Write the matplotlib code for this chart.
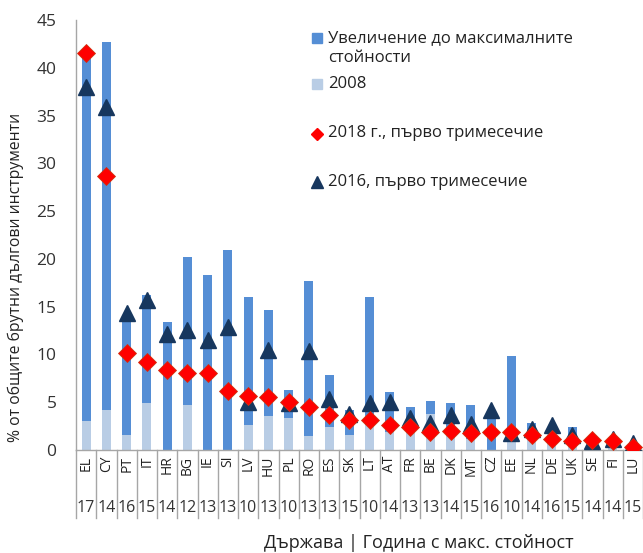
import matplotlib
matplotlib.use("Agg")
import matplotlib.pyplot as plt
from matplotlib.lines import Line2D
from matplotlib.patches import Rectangle
import matplotlib.transforms as mtransforms

plt.rcParams['font.family'] = ['Open Sans', 'DejaVu Sans']

countries = ["EL", "CY", "PT", "IT", "HR", "BG", "IE", "SI", "LV", "HU", "PL", "RO", "ES", "SK",
             "LT", "AT", "FR", "BE", "DK", "MT", "CZ", "EE", "NL", "DE", "UK", "SE", "FI", "LU"]
max_years = ["17", "14", "16", "15", "14", "12", "13", "13", "10", "13", "10", "13", "13", "15",
             "10", "14", "13", "13", "14", "15", "16", "10", "14", "16", "15", "14", "14", "15"]
# 2008 level
v2008 = [3.0, 4.2, 1.6, 4.9, 0.0, 4.7, 0.0, 0.0, 2.6, 3.6, 3.3, 1.5, 2.4, 1.6,
         2.6, 1.9, 3.0, 3.8, 2.0, 1.1, 0.0, 1.0, 1.6, 2.0, 1.0, 0.2, 0.8, 0.3]
# maximum value (2008 + increase)
vmax = [41.7, 42.7, 13.8, 16.2, 13.4, 20.2, 18.3, 20.9, 16.0, 14.6, 6.3, 17.7, 7.8, 4.2,
        16.0, 6.1, 4.5, 5.1, 4.95, 4.7, 4.0, 9.8, 2.8, 2.0, 2.4, 1.0, 0.8, 0.4]
increase = [round(m - b, 2) for m, b in zip(vmax, v2008)]
q1_2018 = [41.5, 28.7, 10.2, 9.2, 8.4, 8.1, 8.1, 6.2, 5.7, 5.5, 5.05, 4.5, 3.7, 3.1,
           3.1, 2.6, 2.4, 1.9, 2.0, 1.8, 1.9, 1.9, 1.6, 1.2, 0.9, 1.0, 0.9, 0.35]
q1_2016 = [38.0, 35.9, 14.3, 15.7, 12.1, 12.6, 11.5, 12.9, 5.05, 10.5, 4.9, 10.4, 5.3, 3.8,
           4.9, 5.05, 3.3, 2.8, 3.7, 2.7, 4.2, 1.8, 2.2, 2.6, 1.6, 0.9, 1.2, 0.7]

legend_labels = ["Увеличение до максималните\nстойности", "2008",
                 "2018 г., първо тримесечие", "2016, първо тримесечие"]
ylabel = "% от общите брутни дългови инструменти"
xlabel = "Държава | Година с макс. стойност"

c_dark = "#558ED5"
c_light = "#B9CDE5"
c_red = "#FF0000"
c_navy = "#17375E"
c_grid = "#A6A6A6"

W, H = 643, 553
fig = plt.figure(figsize=(W / 100, H / 100), dpi=100)
ax = fig.add_axes([76 / W, 1 - 450 / H, (643 - 76) / W, (450 - 20) / H])

x = list(range(len(countries)))
bw = 0.45
ax.bar(x, v2008, width=bw, color=c_light, zorder=2)
ax.bar(x, increase, bottom=v2008, width=bw, color=c_dark, zorder=2)
ax.plot(x, q1_2018, linestyle="none", marker="D", markersize=9.5, color=c_red,
        markeredgecolor="#D03010", markeredgewidth=0.6, zorder=4)
ax.plot(x, q1_2016, linestyle="none", marker="^", markersize=11, color=c_navy,
        markeredgecolor=c_navy, zorder=3)

ax.set_xlim(-0.5, len(countries) - 0.5)
ax.set_ylim(0, 45)
ax.set_yticks(range(0, 46, 5))
ax.tick_params(axis="y", length=0, pad=14, labelsize=12.5, labelcolor="#333333")
ax.set_xticks(x)
ax.set_xticklabels(countries, rotation=90, fontsize=10, color="#222222")
ax.tick_params(axis="x", length=0, pad=4)
for s in ["top", "right"]:
    ax.spines[s].set_visible(False)
for s in ["left", "bottom"]:
    ax.spines[s].set_color(c_grid)
    ax.spines[s].set_linewidth(1.0)

trans = mtransforms.blended_transform_factory(ax.transData, ax.transAxes)
sep_bottom = -(518 - 450) / 430
for i in range(len(countries) + 1):
    ax.add_line(Line2D([i - 0.5, i - 0.5], [0, sep_bottom], transform=trans,
                       color=c_grid, linewidth=1.0, clip_on=False))
year_y = -(508 - 450) / 430
for i, yr in enumerate(max_years):
    ax.text(i, year_y, yr, transform=trans, ha="center", va="center",
            fontsize=11.5, color="#333333", clip_on=False)

fig.text(419 / W, 1 - 543 / H, xlabel, ha="center", va="center", fontsize=13, color="#222222")
fig.text(16 / W, 1 - 277 / H, ylabel, ha="center", va="center", rotation=90,
         fontsize=11.3, color="#222222")

# legend (manual)
lx_m, lx_t = 317, 328
fs_leg = 12
fig.add_artist(Rectangle(((lx_m - 5) / W, 1 - 43 / H), 10 / W, 10 / H,
                         transform=fig.transFigure, color=c_dark))
fig.add_artist(Rectangle(((lx_m - 5) / W, 1 - 89 / H), 10 / W, 10 / H,
                         transform=fig.transFigure, color=c_light))
fig.add_artist(Line2D([lx_m / W], [1 - 134 / H], marker="D", markersize=6, color=c_red,
                      transform=fig.transFigure, linestyle="none"))
fig.add_artist(Line2D([lx_m / W], [1 - 182 / H], marker="^", markersize=8, color=c_navy,
                      transform=fig.transFigure, linestyle="none"))
fig.text(lx_t / W, 1 - 38 / H, legend_labels[0].split("\n")[0], ha="left", va="center",
         fontsize=fs_leg, color="#222222")
fig.text(lx_t / W, 1 - 58 / H, legend_labels[0].split("\n")[1], ha="left", va="center",
         fontsize=fs_leg, color="#222222")
fig.text(lx_t / W, 1 - 84 / H, legend_labels[1], ha="left", va="center", fontsize=fs_leg, color="#222222")
fig.text(lx_t / W, 1 - 133 / H, legend_labels[2], ha="left", va="center", fontsize=fs_leg, color="#222222")
fig.text(lx_t / W, 1 - 182 / H, legend_labels[3], ha="left", va="center", fontsize=fs_leg, color="#222222")

fig.savefig("out.png", dpi=100)
